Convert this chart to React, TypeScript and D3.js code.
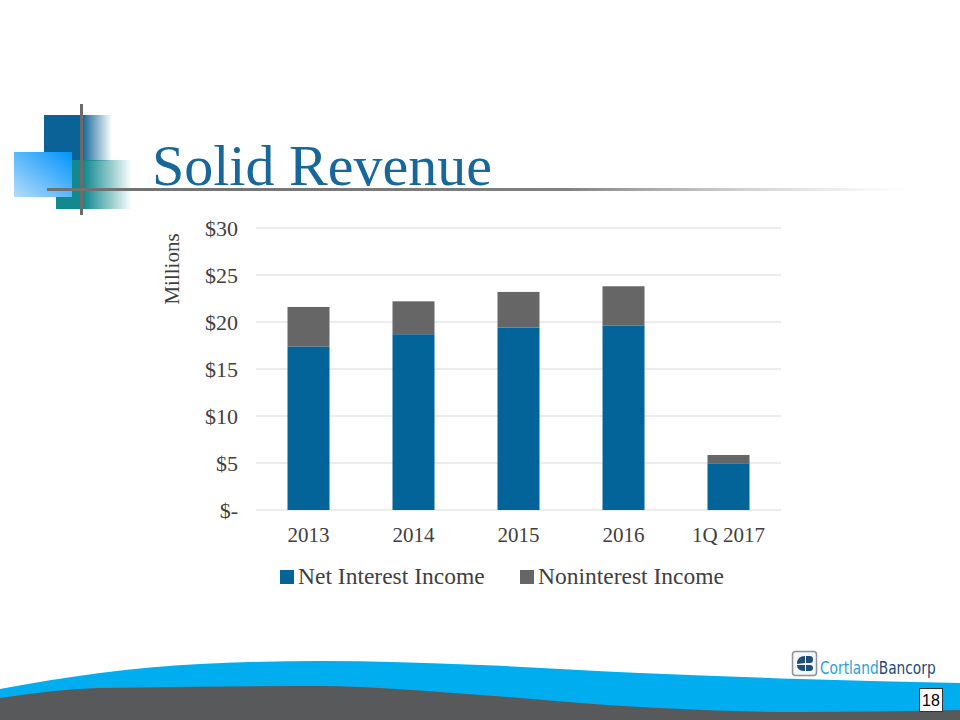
import React from "react";
import * as d3 from "d3";

const categories = ["2013", "2014", "2015", "2016", "1Q 2017"];
const netInterestIncome = [17.4, 18.7, 19.4, 19.6, 4.97];
const noninterestIncome = [4.2, 3.5, 3.8, 4.2, 0.88];
const seriesNames = ["Net Interest Income", "Noninterest Income"];
const seriesColors = ["#03649A", "#666666"];
const yTicks = [0, 5, 10, 15, 20, 25, 30];

const W = 960;
const H = 720;
const SERIF = "'Liberation Serif', 'DejaVu Serif', serif";
const LOGO_FONT = "'DejaVu Sans Condensed', 'DejaVu Sans', sans-serif";

export default function App() {
  const x = d3.scaleBand<string>().domain(categories).range([256, 781]).paddingInner(0.6).paddingOuter(0.3);
  const y = d3.scaleLinear().domain([0, 30]).range([510, 228]);
  const rows = categories.map((c, i) => ({ cat: c, nii: netInterestIncome[i], non: noninterestIncome[i] }));
  const stacked = d3.stack<any>().keys(["nii", "non"])(rows);
  const fmt = (v: number) => (v === 0 ? "$-" : "$" + v);

  const blueTop: [number, number][] = [[0, 689], [100, 673], [200, 664], [320, 661], [480, 665], [640, 673], [800, 679], [960, 683]];
  const grayTop: [number, number][] = [[0, 698], [100, 688], [320, 686], [480, 695], [640, 707], [800, 712], [960, 710]];
  const line = d3.line().curve(d3.curveMonotoneX);
  const bluePath = line(blueTop) + "L960,720L0,720Z";
  const grayPath = line(grayTop) + "L960,720L0,720Z";

  return (
    <svg width={W} height={H} style={{ position: "absolute", left: 0, top: 0, background: "#fff" }}>
      <defs>
        <linearGradient id="gDark" x1="0" x2="1" y1="0" y2="0">
          <stop offset="0" stopColor="#0B6296" />
          <stop offset="0.55" stopColor="#0B6296" />
          <stop offset="1" stopColor="#0B6296" stopOpacity="0" />
        </linearGradient>
        <linearGradient id="gTeal" x1="0" x2="1" y1="0" y2="0">
          <stop offset="0" stopColor="#12898E" />
          <stop offset="0.37" stopColor="#12898E" />
          <stop offset="1" stopColor="#12898E" stopOpacity="0" />
        </linearGradient>
        <linearGradient id="gLight" x1="1" x2="0" y1="0" y2="1">
          <stop offset="0" stopColor="#0094FA" />
          <stop offset="1" stopColor="#B5DCFA" />
        </linearGradient>
        <linearGradient id="gLine" x1="0" x2="1" y1="0" y2="0">
          <stop offset="0" stopColor="#707070" />
          <stop offset="0.6" stopColor="#808080" />
          <stop offset="1" stopColor="#bbbbbb" stopOpacity="0" />
        </linearGradient>
      </defs>

      {/* decoration */}
      <rect x={44} y={115} width={68} height={46} fill="url(#gDark)" />
      <rect x={56} y={160} width={76} height={49} fill="url(#gTeal)" />
      <rect x={14} y={152} width={58} height={45} fill="url(#gLight)" />
      <rect x={80} y={104} width={3} height={111} fill="#6b6b6b" />
      <rect x={47} y={188} width={863} height={3} fill="url(#gLine)" />

      <text x={152} y={185} style={{ fontFamily: SERIF }} fontSize={58} fill="#17679A">
        Solid Revenue
      </text>

      {/* gridlines */}
      {yTicks.map((t) => (
        <g key={t}>
          <line x1={256} x2={781} y1={y(t)} y2={y(t)} stroke="#D9D9D9" strokeWidth={1} />
          <text x={238} y={y(t)} dy="0.35em" textAnchor="end" style={{ fontFamily: SERIF }} fontSize={22} fill="#404040">
            {fmt(t)}
          </text>
        </g>
      ))}
      <text transform={`translate(179,269) rotate(-90)`} textAnchor="middle" style={{ fontFamily: SERIF }} fontSize={21} fill="#404040">
        Millions
      </text>

      {/* bars */}
      {stacked.map((s, si) =>
        s.map((d, i) => (
          <rect
            key={si + "-" + i}
            x={x(categories[i])}
            width={x.bandwidth()}
            y={y(d[1])}
            height={y(d[0]) - y(d[1])}
            fill={seriesColors[si]}
          />
        ))
      )}

      {/* x labels */}
      {categories.map((c) => (
        <text key={c} x={(x(c) as number) + x.bandwidth() / 2} y={542} textAnchor="middle" style={{ fontFamily: SERIF }} fontSize={21} fill="#404040">
          {c}
        </text>
      ))}

      {/* legend */}
      {seriesNames.map((n, i) => {
        const lx = i === 0 ? 280 : 520;
        return (
          <g key={n}>
            <rect x={lx} y={570} width={14} height={14} fill={seriesColors[i]} />
            <text x={lx + 18} y={584} style={{ fontFamily: SERIF }} fontSize={23.5} fill="#404040">
              {n}
            </text>
          </g>
        );
      })}

      {/* bottom waves */}
      <path d={bluePath} fill="#00AEEF" />
      <path d={grayPath} fill="#58595B" />

      {/* logo */}
      <rect x={792.5} y={651.5} width={24} height={24} rx={3} fill="#f4f6f8" stroke="#8c9399" strokeWidth={1.5} />
      <path d="M797,664 Q797,656 805,656 L805,663 Z" fill="#1E4E78" />
      <path d="M797,665 L805,665 L805,671 Q797,671 797,665 Z" fill="#1E4E78" />
      <path d="M806,656 L810,656 Q813,656 813,659.5 Q813,663 810,663 L806,663 Z" fill="#1E4E78" />
      <path d="M806,665 L810,665 Q813,665 813,668 Q813,671 810,671 L806,671 Z" fill="#1E4E78" />
      <g transform="translate(820,674) scale(1,1.2)">
        <text x={0} y={0} style={{ fontFamily: LOGO_FONT }} fontSize={15.3}>
          <tspan fill="#2C9ED8">Cortland</tspan><tspan fill="#1E4A73">Bancorp</tspan>
        </text>
      </g>

      {/* page number */}
      <rect x={919.5} y={688.5} width={23} height={23} fill="#fff" stroke="#333" strokeWidth={1} />
      <text x={931} y={706} textAnchor="middle" style={{ fontFamily: "'Liberation Sans', Arial, sans-serif" }} fontSize={16} fill="#000">
        18
      </text>
    </svg>
  );
}
